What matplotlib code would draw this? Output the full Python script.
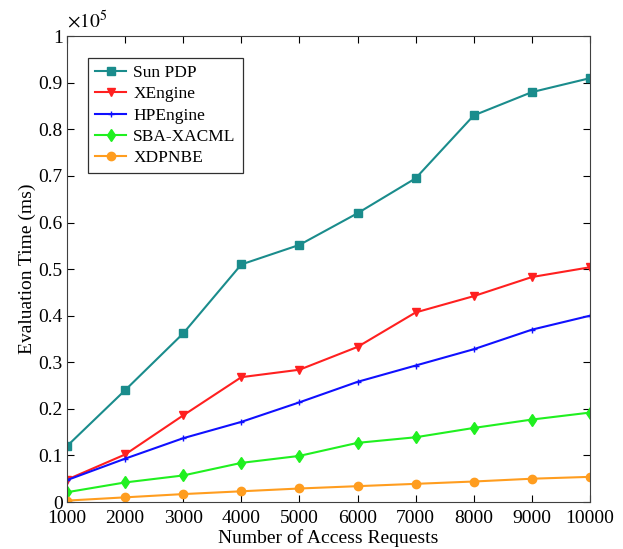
import matplotlib.pyplot as plt
from matplotlib.ticker import FuncFormatter
import numpy as np

plt.rcParams['font.family'] = ['Liberation Serif', 'DejaVu Serif']
plt.rcParams['mathtext.fontset'] = 'stix'

requests = [1000, 2000, 3000, 4000, 5000, 6000, 7000, 8000, 9000, 10000]

# evaluation time in ms
sun_pdp = [12000, 24000, 36200, 51000, 55200, 62000, 69500, 83000, 88000, 91000]
xengine = [4800, 10200, 18600, 26800, 28400, 33300, 40700, 44200, 48300, 50400]
hpengine = [4700, 9300, 13700, 17200, 21400, 25800, 29300, 32800, 37000, 40000]
sba_xacml = [2100, 4200, 5700, 8400, 9900, 12700, 13900, 15900, 17700, 19200]
xdpnbe = [300, 1000, 1700, 2300, 2900, 3400, 3900, 4400, 5000, 5400]

fig = plt.figure(figsize=(6.23, 5.49), dpi=100)
ax = fig.add_axes([0.1075, 0.0856, 0.8395, 0.8484])

ax.plot(requests, sun_pdp, color='#1a8c8c', marker='s', ms=6, lw=1.5, label='Sun PDP')
ax.plot(requests, xengine, color='#ff2020', marker='v', ms=6, lw=1.5, label='XEngine')
ax.plot(requests, hpengine, color='#1010ff', marker='+', ms=5, lw=1.5, label='HPEngine')
ax.plot(requests, sba_xacml, color='#20f020', marker='d', ms=6, lw=1.5, label='SBA-XACML')
ax.plot(requests, xdpnbe, color='#ff9d1f', marker='o', ms=6, lw=1.5, label='XDPNBE')

ax.set_xlim(1000, 10000)
ax.set_ylim(0, 100000)
ax.set_xticks(requests)
ax.set_yticks(np.arange(0, 100001, 10000))
ax.yaxis.set_major_formatter(FuncFormatter(lambda v, _: f"{v / 1e5:g}"))
ax.tick_params(direction='in', top=True, right=True, labelsize=14, length=5, pad=3)
ax.tick_params(axis='x', pad=6)
for s in ax.spines.values():
    s.set_color('#404040')

ax.set_xlabel('Number of Access Requests', fontsize=14, labelpad=1)
ax.set_ylabel('Evaluation Time (ms)', fontsize=14, labelpad=2)
ax.text(0.0, 1.01, r'$\times 10^5$', transform=ax.transAxes, fontsize=14, ha='left', va='bottom')

leg = ax.legend(loc='upper left', bbox_to_anchor=(0.024, 0.972), fontsize=12.5, fancybox=False,
                edgecolor='#303030', framealpha=1, handlelength=1.8, handletextpad=0.4,
                borderpad=0.4, labelspacing=0.3)
leg.get_frame().set_linewidth(0.9)

fig.savefig('out.png', dpi=100)
